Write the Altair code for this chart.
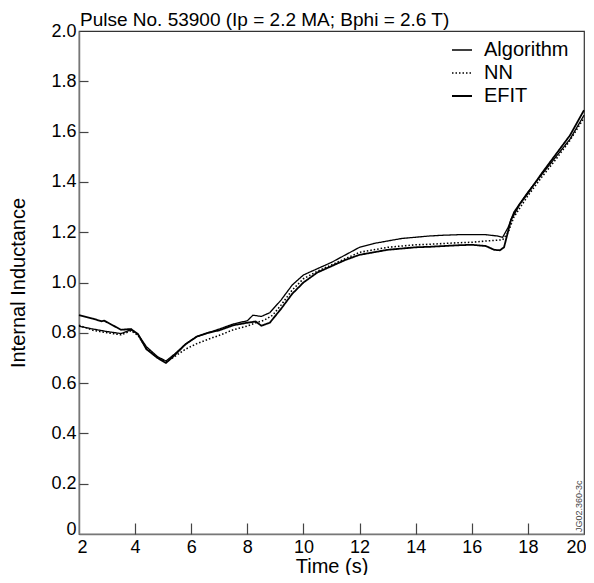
import altair as alt
import pandas as pd

FONT = "Liberation Sans"

series_names = ["Algorithm", "NN", "EFIT"]

alg_t = [2.0, 2.5, 3.0, 3.5, 3.85, 4.1, 4.4, 4.8, 5.1, 5.4, 5.8, 6.2, 6.6, 7.0, 7.5, 8.0, 8.2, 8.5,
         8.8, 9.2, 9.6, 10.0, 10.5, 11.0, 11.5, 12.0, 12.5, 13.0, 13.5, 14.0, 14.5, 15.0, 15.5, 16.0,
         16.5, 16.9, 17.1, 17.3, 17.5, 18.0, 18.5, 19.0, 19.5, 20.0]
alg_v = [0.826, 0.815, 0.805, 0.797, 0.812, 0.795, 0.745, 0.705, 0.688, 0.715, 0.755, 0.785, 0.800,
         0.815, 0.835, 0.848, 0.870, 0.865, 0.880, 0.930, 0.990, 1.030, 1.055, 1.080, 1.110, 1.140,
         1.155, 1.165, 1.175, 1.180, 1.185, 1.188, 1.190, 1.190, 1.190, 1.185, 1.180, 1.220, 1.280,
         1.360, 1.430, 1.500, 1.570, 1.665]

nn_t = [2.0, 2.5, 3.0, 3.5, 3.85, 4.1, 4.4, 4.8, 5.1, 5.4, 5.8, 6.2, 6.6, 7.0, 7.5, 8.0, 8.3, 8.6,
        8.9, 9.2, 9.6, 10.0, 10.5, 11.0, 11.5, 12.0, 12.5, 13.0, 13.5, 14.0, 14.5, 15.0, 15.5, 16.0,
        16.5, 16.9, 17.1, 17.3, 17.5, 18.0, 18.5, 19.0, 19.5, 20.0]
nn_v = [0.830, 0.810, 0.800, 0.792, 0.808, 0.790, 0.740, 0.700, 0.685, 0.705, 0.735, 0.757, 0.774,
        0.790, 0.812, 0.827, 0.840, 0.850, 0.870, 0.910, 0.970, 1.015, 1.045, 1.070, 1.095, 1.120,
        1.130, 1.140, 1.145, 1.150, 1.152, 1.155, 1.158, 1.160, 1.165, 1.168, 1.170, 1.200, 1.260,
        1.345, 1.420, 1.490, 1.565, 1.655]

efit_t = [2.0, 2.5, 2.8, 2.9, 3.2, 3.5, 3.85, 4.1, 4.4, 4.8, 5.1, 5.4, 5.8, 6.2, 6.6, 7.0, 7.5, 8.0,
          8.3, 8.5, 8.8, 9.2, 9.6, 10.0, 10.5, 11.0, 11.5, 12.0, 12.5, 13.0, 13.5, 14.0, 14.5, 15.0,
          15.5, 16.0, 16.5, 16.8, 17.0, 17.15, 17.4, 17.7, 18.0, 18.5, 19.0, 19.5, 20.0]
efit_v = [0.870, 0.856, 0.846, 0.848, 0.830, 0.812, 0.815, 0.795, 0.735, 0.700, 0.680, 0.710, 0.755,
          0.785, 0.800, 0.810, 0.830, 0.840, 0.845, 0.828, 0.840, 0.895, 0.955, 1.000, 1.040, 1.065,
          1.090, 1.110, 1.120, 1.130, 1.135, 1.140, 1.142, 1.145, 1.148, 1.150, 1.145, 1.130, 1.128,
          1.140, 1.250, 1.310, 1.355, 1.435, 1.510, 1.585, 1.685]

x_ticks = [2, 4, 6, 8, 10, 12, 14, 16, 18, 20]
y_ticks = [0, 0.2, 0.4, 0.6, 0.8, 1.0, 1.2, 1.4, 1.6, 1.8, 2.0]

title_text = "Pulse No. 53900 (Ip = 2.2 MA; Bphi = 2.6 T)"
x_title = "Time (s)"
y_title = "Internal Inductance"
note_text = "JG02.360-3c"

rows = []
for name, ts, vs in [("Algorithm", alg_t, alg_v), ("NN", nn_t, nn_v), ("EFIT", efit_t, efit_v)]:
    for i, (t, v) in enumerate(zip(ts, vs)):
        rows.append({"series": name, "t": t, "v": v, "order": i})
df = pd.DataFrame(rows)

W, H = 505, 503

xscale = alt.Scale(domain=[2, 20], nice=False, zero=False)
yscale = alt.Scale(domain=[0, 2], nice=False)

legend = alt.Legend(
    title=None, orient="none", legendX=372, legendY=8, symbolType="stroke",
    symbolSize=400, symbolStrokeColor="black", labelFont=FONT, labelFontSize=20,
    labelColor="black", labelOffset=11, rowPadding=2, padding=0,
)

lines = alt.Chart(df).mark_line(color="black").encode(
    x=alt.X("t:Q", scale=xscale, axis=alt.Axis(
        orient="bottom", values=x_ticks, ticks=False, grid=False, labelPadding=4,
        labelFlush=True, labelFlushOffset=2,
        title=x_title, titlePadding=0, labelFont=FONT, titleFont=FONT,
        labelFontSize=18, titleFontSize=20, titleFontWeight="normal",
        labelColor="black", titleColor="black", domainColor="#777", domainWidth=1.5)),
    y=alt.Y("v:Q", scale=yscale, axis=alt.Axis(
        orient="left", values=y_ticks, ticks=False, grid=False, labelPadding=3,
        labelFlush=False,
        labelBaseline={"condition": {"test": "datum.value == 0", "value": "alphabetic"},
                       "value": "middle"},
        labelExpr="datum.value == 0 ? '0' : format(datum.value, '.1f')",
        title=y_title, titlePadding=22, labelFont=FONT, titleFont=FONT,
        labelFontSize=18, titleFontSize=20, titleFontWeight="normal",
        labelColor="black", titleColor="black", domainColor="#777", domainWidth=1.5)),
    strokeWidth=alt.StrokeWidth("series:N", sort=series_names,
                                scale=alt.Scale(domain=series_names, range=[1.3, 1.8, 2.8]),
                                legend=legend),
    strokeDash=alt.StrokeDash("series:N", sort=series_names,
                              scale=alt.Scale(domain=series_names, range=[[1, 0], [1.5, 2], [1, 0]]),
                              legend=legend),
    detail="series:N",
    order="order:Q",
)

tick_layer = alt.Chart(df).mark_line(opacity=0).encode(
    x=alt.X("t:Q", scale=xscale, axis=alt.Axis(
        orient="bottom", offset=-11, tickSize=11, values=x_ticks[1:-1], labels=False,
        domain=False, grid=False, title=None, tickColor="#444", tickWidth=1.2)),
    y=alt.Y("v:Q", scale=yscale, axis=alt.Axis(
        orient="left", offset=-9, tickSize=9, values=y_ticks[1:-1], labels=False,
        domain=False, grid=False, title=None, tickColor="#444", tickWidth=1.2)),
    detail="series:N",
)

note = alt.Chart(pd.DataFrame({"label": [note_text]})).mark_text(
    angle=270, align="left", baseline="middle", font=FONT, fontSize=9, color="#444"
).encode(text="label:N", x=alt.value(W - 5), y=alt.value(H - 2))

title_mark = alt.Chart(pd.DataFrame({"label": [title_text]})).mark_text(
    align="left", baseline="alphabetic", font=FONT, fontSize=19, color="black"
).encode(text="label:N", x=alt.value(1), y=alt.value(-5))

chart = alt.layer(lines, tick_layer, note, title_mark).resolve_axis(
    x="independent", y="independent"
).properties(
    width=W, height=H,
    autosize=alt.AutoSizeParams(type="none"),
    padding={"left": 71, "top": 23, "right": 2, "bottom": 41},
).configure_view(stroke="#333", strokeWidth=1.2)

chart.save("out.html", embed_options={"renderer": "svg", "actions": False})
